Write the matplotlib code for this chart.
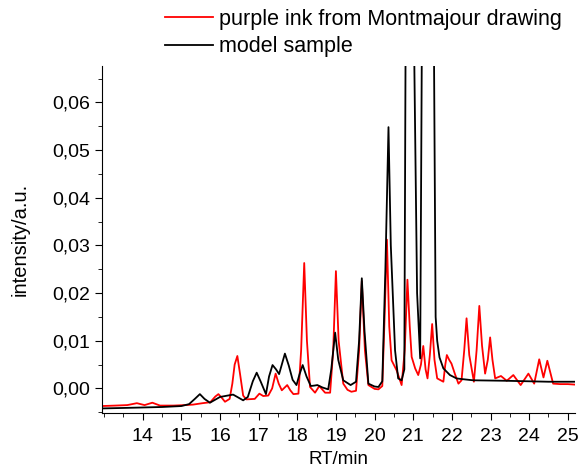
import matplotlib
matplotlib.use("Agg")
import matplotlib.pyplot as plt
from matplotlib.ticker import MultipleLocator, FixedLocator, FuncFormatter

plt.rcParams['font.family'] = ['Liberation Sans', 'DejaVu Sans']

#Data (RT in min, intensity in a.u.)
red_label = "purple ink from Montmajour drawing"
black_label = "model sample"
x_ticks = [14, 15, 16, 17, 18, 19, 20, 21, 22, 23, 24, 25]

red_rt = [12.95, 13.3, 13.6, 13.85, 14.05, 14.25, 14.45, 14.8, 15.1, 15.3, 15.55, 15.75,
          15.88, 15.96, 16.05, 16.13, 16.25, 16.32, 16.38, 16.45, 16.52, 16.6, 16.68, 16.9,
          17.02, 17.12, 17.25, 17.35, 17.44, 17.52, 17.6, 17.74, 17.82, 17.9, 18.03, 18.1,
          18.18, 18.25, 18.33, 18.46, 18.57, 18.72, 18.85, 18.93, 19.0, 19.07, 19.19, 19.3,
          19.4, 19.52, 19.6, 19.67, 19.75, 19.84, 20.0, 20.1, 20.2, 20.26, 20.32, 20.38,
          20.44, 20.57, 20.7, 20.78, 20.85, 20.91, 20.96, 21.05, 21.13, 21.2, 21.26, 21.32,
          21.37, 21.43, 21.49, 21.55, 21.62, 21.78, 21.83, 21.87, 21.93, 21.99, 22.08, 22.17,
          22.25, 22.32, 22.38, 22.45, 22.57, 22.64, 22.71, 22.78, 22.86, 22.93, 22.99, 23.05,
          23.12, 23.27, 23.42, 23.59, 23.78, 23.98, 24.13, 24.26, 24.37, 24.47, 24.62, 24.8,
          25.0, 25.18]
red_int = [-0.0037, -0.0036, -0.0035, -0.0031, -0.0035, -0.0030, -0.0036, -0.0036, -0.0035,
           -0.0034, -0.0031, -0.0029, -0.0017, -0.0012, -0.0020, -0.0028, -0.0022, 0.0010,
           0.0050, 0.0068, 0.0030, -0.0015, -0.0023, -0.0022, -0.0011, -0.0016, -0.0015,
           0.0000, 0.0031, 0.0010, -0.0004, 0.0007, -0.0004, -0.0012, -0.0011, 0.0080,
           0.0263, 0.0100, 0.0003, -0.0009, 0.0005, -0.0009, -0.0009, 0.0080, 0.0246, 0.0100,
           0.0010, -0.0003, -0.0007, -0.0005, 0.0080, 0.0225, 0.0080, 0.0007, -0.0001,
           -0.0002, 0.0005, 0.0150, 0.0312, 0.0130, 0.0059, 0.0038, 0.0007, 0.0080, 0.0228,
           0.0130, 0.0066, 0.0042, 0.0028, 0.0050, 0.0089, 0.0040, 0.0021, 0.0070, 0.0135,
           0.0060, 0.0021, 0.0014, 0.0050, 0.0070, 0.0060, 0.0052, 0.0030, 0.0010, 0.0017,
           0.0080, 0.0147, 0.0070, 0.0014, 0.0080, 0.0173, 0.0090, 0.0031, 0.0060, 0.0107,
           0.0060, 0.0021, 0.0026, 0.0016, 0.0028, 0.0007, 0.0031, 0.0010, 0.0061, 0.0023,
           0.0058, 0.0010, 0.0009, 0.0009, 0.0008]

black_rt = [12.95, 13.5, 14.0, 14.5, 15.0, 15.2, 15.35, 15.48, 15.6, 15.74, 15.87, 16.0,
            16.2, 16.34, 16.45, 16.6, 16.72, 16.85, 16.95, 17.05, 17.19, 17.27, 17.36, 17.45,
            17.53, 17.6, 17.68, 17.78, 17.88, 17.98, 18.06, 18.14, 18.24, 18.35, 18.45, 18.52,
            18.65, 18.8, 18.88, 18.98, 19.06, 19.19, 19.38, 19.52, 19.6, 19.67, 19.74, 19.84,
            20.0, 20.1, 20.2, 20.28, 20.36, 20.42, 20.53, 20.61, 20.7, 20.77, 20.8, 20.92,
            21.03, 21.1, 21.18, 21.22, 21.38, 21.54, 21.58, 21.62, 21.68, 21.78, 21.95, 22.12,
            22.21, 22.55, 23.4, 24.5, 25.18]
black_int = [-0.0042, -0.0041, -0.0040, -0.0039, -0.0037, -0.0033, -0.0022, -0.0012, -0.0022,
             -0.0030, -0.0024, -0.0018, -0.0015, -0.0013, -0.0018, -0.0025, -0.0018, 0.0015,
             0.0033, 0.0015, -0.0012, 0.0025, 0.0049, 0.0040, 0.0030, 0.0050, 0.0073, 0.0048,
             0.0018, 0.0007, 0.0030, 0.0049, 0.0025, 0.0005, 0.0006, 0.0007, 0.0002, -0.0002,
             0.0040, 0.0117, 0.0060, 0.0017, 0.0007, 0.0014, 0.0100, 0.0231, 0.0120, 0.0010,
             0.0004, 0.0003, 0.0015, 0.0250, 0.0548, 0.0300, 0.0080, 0.0021, 0.0017, 0.0040,
             0.0670, 0.2000, 0.0670, 0.0200, 0.0063, 0.0670, 0.3000, 0.0670, 0.0150, 0.0100,
             0.0065, 0.0042, 0.0028, 0.0021, 0.0020, 0.0017, 0.0016, 0.0014, 0.0014]

#Graph generation
fig = plt.figure(figsize=(5.8, 4.69), dpi=100)
ax = fig.add_axes([0.176, 0.12, 0.815, 0.739])
ax.plot(red_rt, red_int, color='red', lw=1.3, label=red_label)
ax.plot(black_rt, black_int, color='black', lw=1.3, label=black_label)

ax.set_xlim(12.95, 25.18)
ax.set_ylim(-0.0051, 0.0676)
ax.spines['top'].set_visible(False)
ax.spines['right'].set_visible(False)
ax.xaxis.set_major_locator(FixedLocator(x_ticks))
ax.xaxis.set_minor_locator(MultipleLocator(0.5))
ax.yaxis.set_major_locator(MultipleLocator(0.01))
ax.yaxis.set_minor_locator(MultipleLocator(0.005))
ax.yaxis.set_major_formatter(FuncFormatter(lambda v, p: f"{v:.2f}".replace('.', ',')))
ax.tick_params(which='major', direction='out', length=5, labelsize=14)
ax.tick_params(axis='x', which='major', pad=6)
ax.tick_params(which='minor', direction='out', length=3)
ax.set_xlabel("RT/min", fontsize=13.5, labelpad=4)
ax.set_ylabel("intensity/a.u.", fontsize=14.5, labelpad=16)

fig.legend(loc='upper left', bbox_to_anchor=(165 / 580, 1 - 9 / 469), frameon=False,
           fontsize=15.5, handlelength=2.25, handletextpad=0.25, labelspacing=0.3,
           borderaxespad=0, borderpad=0)

fig.savefig("out.png", dpi=100)
